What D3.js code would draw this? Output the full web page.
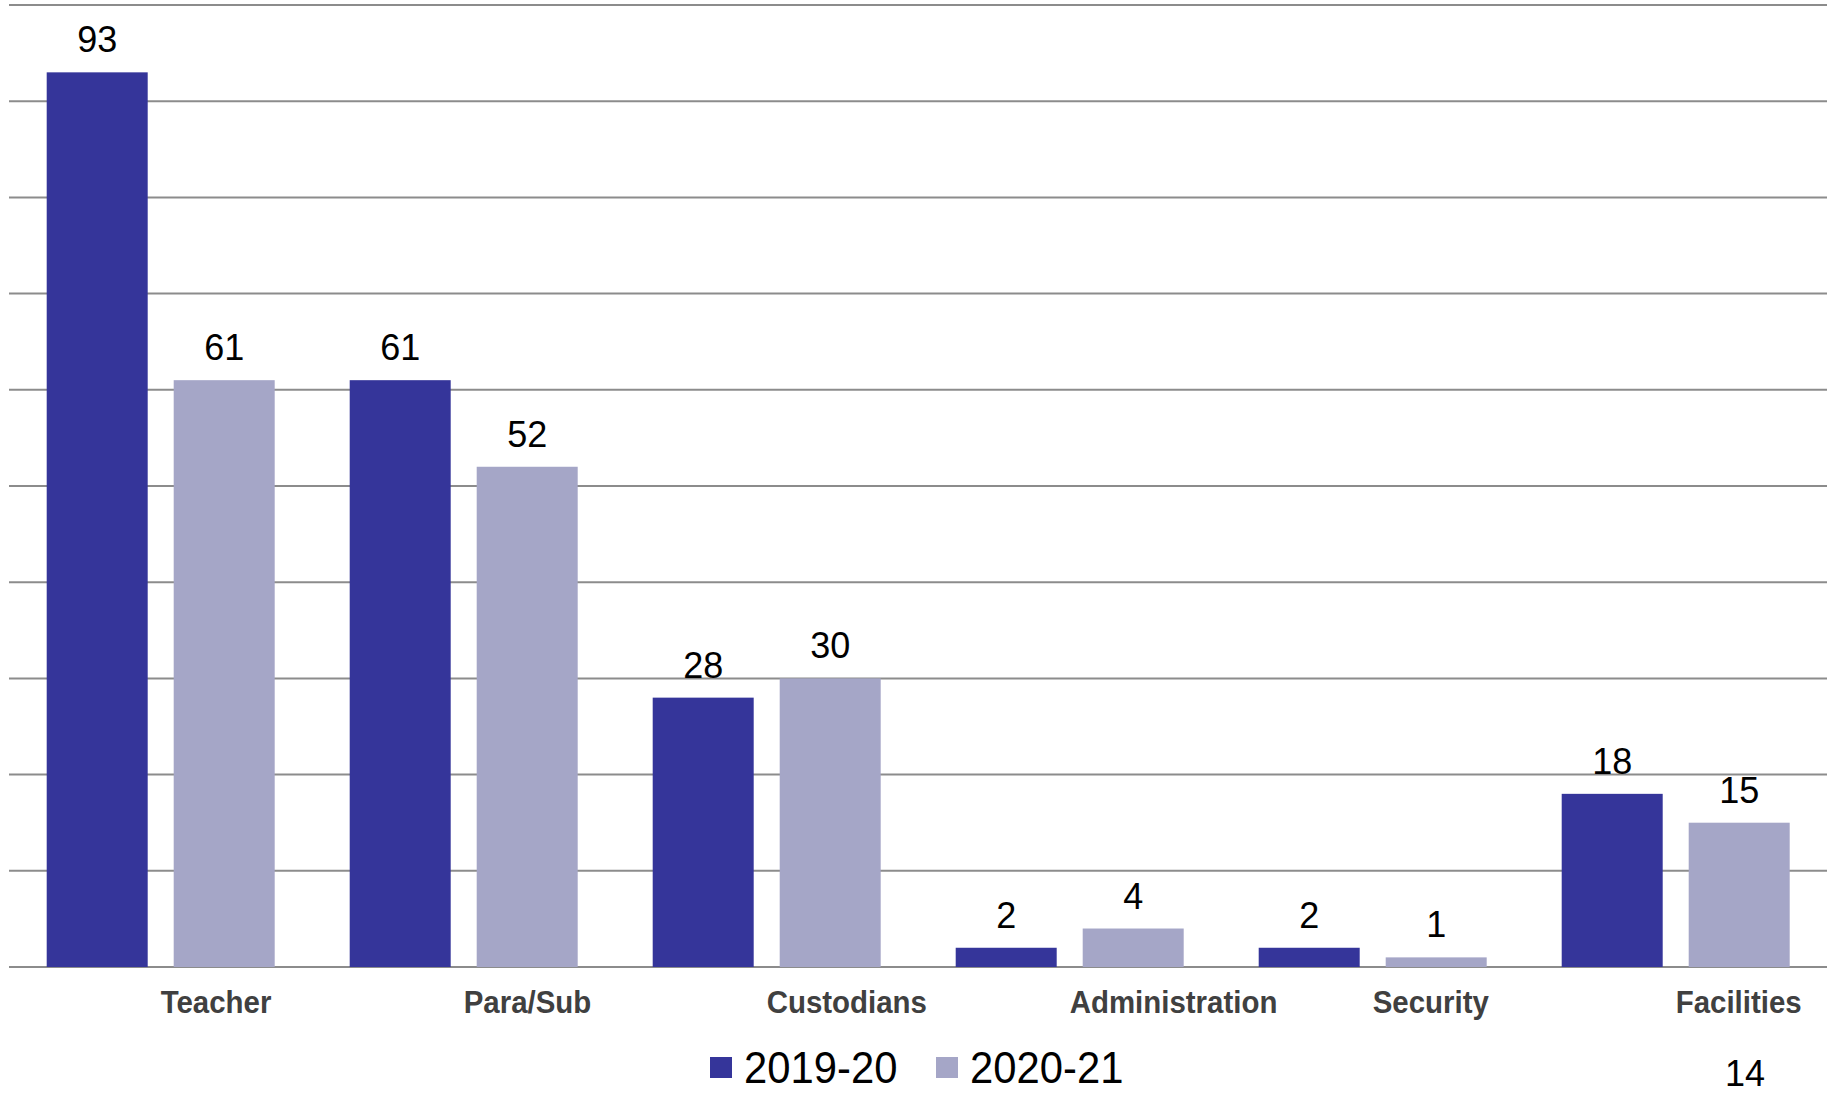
<!DOCTYPE html>
<html>
<head>
<meta charset="utf-8">
<script src="https://cdn.jsdelivr.net/npm/d3@7"></script>
<style>
    body { margin: 0; background: #ffffff; }
    .chart svg { display: block; }
    .value_label { font-family: "Liberation Sans", Arial, sans-serif; font-size: 36px; fill: #000000; }
    .cat_label { font-family: "Liberation Sans", Arial, sans-serif; font-size: 31px; font-weight: bold; fill: #404040; }
    .legend_text { font-family: "Liberation Sans", Arial, sans-serif; font-size: 44px; fill: #000000; }
</style>
</head>
<body>
<div class="chart"></div>
<script>
"use strict";

// Data
let categories = ['Teacher', 'Para/Sub', 'Custodians', 'Administration', 'Security', 'Facilities'];
let series_names = ['2019-20', '2020-21'];
let values_2019 = [93, 61, 28, 2, 2, 18];
let values_2020 = [61, 52, 30, 4, 1, 15];
let grid_ticks = [0, 10, 20, 30, 40, 50, 60, 70, 80, 90, 100];
let page_number = '14';

(function(){

    // Plot Appearance Settings
    let svg_width = 1839;
    let svg_height = 1093;
    let colors = ['#35359a', '#a5a6c7'];
    let plot = {left: 46.7, right: 1789.7, top: 5, bottom: 967};

    let rows = categories.map(function(c, i) {
        return {category: c, values: [values_2019[i], values_2020[i]]};
    });

    let svg = d3.select(".chart")
        .append("svg")
        .attr("width", svg_width)
        .attr("height", svg_height);

    // ----------------------------------------
    //  Scales
    // ----------------------------------------
    let x_scale = d3.scaleBand()
        .domain(categories)
        .range([plot.left, plot.right])
        .paddingInner(75 / 303)
        .paddingOuter(0);

    let x_inner = d3.scaleBand()
        .domain(series_names)
        .range([0, x_scale.bandwidth()])
        .paddingInner(26 / 127)
        .paddingOuter(0);

    let y_scale = d3.scaleLinear()
        .domain([0, 100])
        .range([plot.bottom, plot.top]);

    let c_scale = d3.scaleOrdinal()
        .domain(series_names)
        .range(colors);

    // ----------------------------------------
    //  Gridlines (no axis labels in the original)
    // ----------------------------------------
    svg.append("g")
        .attr("class", "grid")
        .selectAll("line")
        .data(grid_ticks)
        .enter()
        .append("line")
        .attr("x1", 9)
        .attr("x2", 1827)
        .attr("y1", function(d) { return y_scale(d); })
        .attr("y2", function(d) { return y_scale(d); })
        .attr("stroke", "#8c8c8c")
        .attr("stroke-width", 2);

    // ----------------------------------------
    //  Bars + value labels
    // ----------------------------------------
    let groups = svg.selectAll(".group")
        .data(rows)
        .enter()
        .append("g")
        .attr("class", "group")
        .attr("transform", function(d) { return "translate(" + x_scale(d.category) + ",0)"; });

    let bar_data = function(d) {
        return d.values.map(function(v, i) { return {name: series_names[i], value: v}; });
    };

    groups.selectAll("rect")
        .data(bar_data)
        .enter()
        .append("rect")
        .attr("x", function(d) { return x_inner(d.name); })
        .attr("y", function(d) { return y_scale(d.value); })
        .attr("width", x_inner.bandwidth())
        .attr("height", function(d) { return y_scale(0) - y_scale(d.value); })
        .attr("fill", function(d) { return c_scale(d.name); });

    groups.selectAll(".value_label")
        .data(bar_data)
        .enter()
        .append("text")
        .attr("class", "value_label")
        .attr("x", function(d) { return x_inner(d.name) + x_inner.bandwidth() / 2; })
        .attr("y", function(d) { return y_scale(d.value) - 20; })
        .attr("text-anchor", "middle")
        .text(function(d) { return d.value; });

    // category labels start at the centre of each group
    svg.selectAll(".cat_label")
        .data(categories)
        .enter()
        .append("text")
        .attr("class", "cat_label")
        .attr("transform", function(d) {
            return "translate(" + (x_scale(d) + x_scale.bandwidth() / 2) + ",1013) scale(0.95,1)";
        })
        .text(function(d) { return d; });

    // ----------------------------------------
    //  Legend
    // ----------------------------------------
    let legend_x = [710, 936];
    let legend = svg.selectAll(".legend")
        .data(series_names)
        .enter()
        .append("g")
        .attr("class", "legend")
        .attr("transform", function(d, i) { return "translate(" + legend_x[i] + ",1057)"; });

    legend.append("rect")
        .attr("width", 22)
        .attr("height", 21)
        .attr("fill", function(d) { return c_scale(d); });

    legend.append("text")
        .attr("class", "legend_text")
        .attr("transform", "translate(34,26) scale(0.95,1)")
        .text(function(d) { return d; });

    // stray page number bottom right
    svg.append("text")
        .attr("class", "value_label")
        .attr("x", 1745)
        .attr("y", 1086)
        .attr("text-anchor", "middle")
        .text(page_number);

})();
</script>
</body>
</html>
